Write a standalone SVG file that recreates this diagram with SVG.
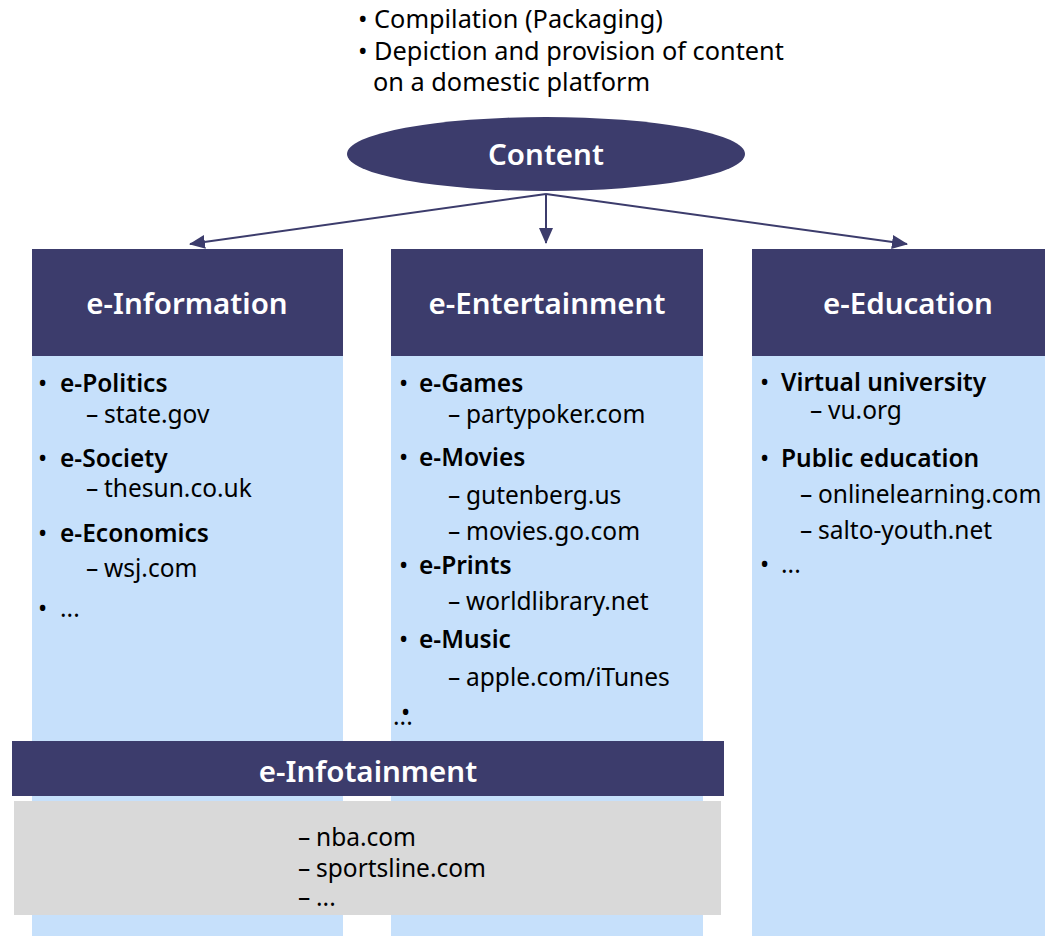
<svg xmlns="http://www.w3.org/2000/svg" width="1045" height="936" viewBox="0 0 1045 936">
<style>
text{font-family:"Noto Sans","Open Sans","Liberation Sans",sans-serif;fill:#000}
.hd{fill:#3c3c6c}
.bd{fill:#c6e0fb}
.ht{fill:#fff;font-size:29.5px;font-weight:600;text-anchor:middle}
.b{font-size:24.5px;font-weight:600}
.r{font-size:24.5px}
.t{font-size:25.3px}
.conn{stroke:#3c3c6c;stroke-width:2;fill:none}
</style>
<defs>
<marker id="ah2" viewBox="0 0 16 14" refX="15" refY="7" markerWidth="16" markerHeight="14" markerUnits="userSpaceOnUse" orient="auto">
<path d="M0,0 L16,7 L0,14 z" fill="#3c3c6c"/>
</marker>
</defs>
<rect width="1045" height="936" fill="#fff"/>
<g id="notes">
<text class="t" x="358" y="28">• Compilation (Packaging)</text>
<text class="t" x="358" y="60">• Depiction and provision of content</text>
<text class="t" x="373" y="91">on a domestic platform</text>
</g>
<g id="content">
<ellipse cx="546" cy="154" rx="199" ry="37" class="hd"/>
<text x="546" y="165" class="ht">Content</text>
</g>
<g id="connectors">
<line class="conn" x1="546" y1="194" x2="190" y2="244" marker-end="url(#ah2)"/>
<line class="conn" x1="546" y1="194" x2="546" y2="243" marker-end="url(#ah2)"/>
<line class="conn" x1="546" y1="194" x2="907" y2="244" marker-end="url(#ah2)"/>
</g>
<g id="e-information">
<rect x="32" y="356" width="311" height="580" class="bd"/>
<rect x="32" y="249" width="311" height="107" class="hd"/>
<text x="187" y="314" class="ht">e-Information</text>
<text class="r" x="38" y="392">•</text><text class="b" x="60" y="392">e-Politics</text>
<text class="r" x="86" y="423">–<tspan x="104">state.gov</tspan></text>
<text class="r" x="38" y="467">•</text><text class="b" x="60" y="467">e-Society</text>
<text class="r" x="86" y="497">–<tspan x="104">thesun.co.uk</tspan></text>
<text class="r" x="38" y="542">•</text><text class="b" x="60" y="542">e-Economics</text>
<text class="r" x="86" y="577">–<tspan x="104">wsj.com</tspan></text>
<text class="r" x="38" y="617">•</text><text class="r" x="60" y="617">...</text>
</g>
<g id="e-entertainment">
<rect x="391" y="356" width="312" height="580" class="bd"/>
<rect x="391" y="249" width="312" height="107" class="hd"/>
<text x="547" y="314" class="ht">e-Entertainment</text>
<text class="r" x="399" y="392">•</text><text class="b" x="419" y="392">e-Games</text>
<text class="r" x="448" y="423">–<tspan x="466">partypoker.com</tspan></text>
<text class="r" x="399" y="466">•</text><text class="b" x="419" y="466">e-Movies</text>
<text class="r" x="448" y="504">–<tspan x="466">gutenberg.us</tspan></text>
<text class="r" x="448" y="540">–<tspan x="466">movies.go.com</tspan></text>
<text class="r" x="399" y="574">•</text><text class="b" x="419" y="574">e-Prints</text>
<text class="r" x="448" y="610">–<tspan x="466">worldlibrary.net</tspan></text>
<text class="r" x="399" y="648">•</text><text class="b" x="419" y="648">e-Music</text>
<text class="r" x="448" y="686">–<tspan x="466">apple.com/iTunes</tspan></text>
<text class="r" x="401" y="721">•<tspan x="393" y="725">...</tspan></text>
</g>
<g id="e-education">
<rect x="752" y="356" width="293" height="580" class="bd"/>
<rect x="752" y="249" width="293" height="107" class="hd"/>
<text x="908" y="314" class="ht">e-Education</text>
<text class="r" x="760" y="391">•</text><text class="b" x="781" y="391">Virtual university</text>
<text class="r" x="810" y="419">–<tspan x="828">vu.org</tspan></text>
<text class="r" x="760" y="467">•</text><text class="b" x="781" y="467">Public education</text>
<text class="r" x="800" y="503">–<tspan x="818">onlinelearning.com</tspan></text>
<text class="r" x="800" y="539">–<tspan x="818">salto-youth.net</tspan></text>
<text class="r" x="760" y="573">•</text><text class="r" x="781" y="573">...</text>
</g>
<g id="e-infotainment">
<rect x="12" y="741" width="712" height="55" class="hd"/>
<text x="368" y="782" class="ht">e-Infotainment</text>
<rect x="14" y="801" width="707" height="114" fill="#d9d9d9"/>
<text class="r" x="298" y="846">–<tspan x="316">nba.com</tspan></text>
<text class="r" x="298" y="877">–<tspan x="316">sportsline.com</tspan></text>
<text class="r" x="298" y="906">–<tspan x="316">...</tspan></text>
</g>
</svg>
